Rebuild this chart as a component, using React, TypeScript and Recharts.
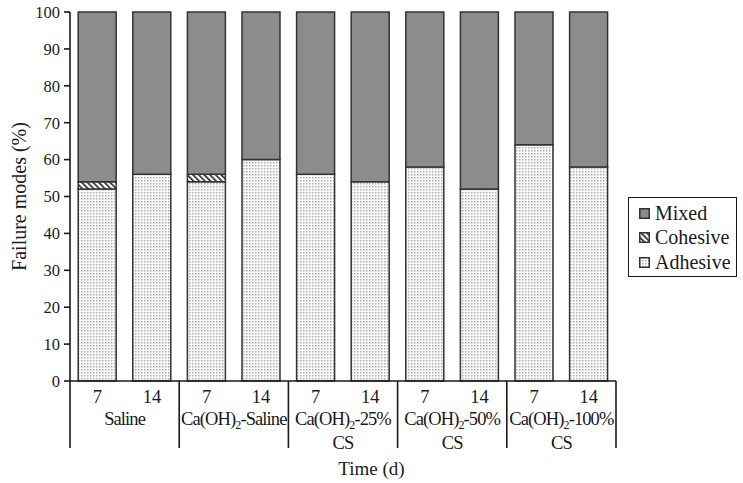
import { BarChart, Bar, XAxis, YAxis } from 'recharts';

// ─── Data ────────────────────────────────────────────────────────────────────

const days = ['7', '14', '7', '14', '7', '14', '7', '14', '7', '14'];
const groups = [
  ['Saline'],
  ['Ca(OH)2-Saline'],
  ['Ca(OH)2-25%', 'CS'],
  ['Ca(OH)2-50%', 'CS'],
  ['Ca(OH)2-100%', 'CS'],
];
const adhesive = [52, 56, 54, 60, 56, 54, 58, 52, 64, 58];
const cohesive = [2, 0, 2, 0, 0, 0, 0, 0, 0, 0];
const mixed = [46, 44, 44, 40, 44, 46, 42, 48, 36, 42];
const yTicks = [0, 10, 20, 30, 40, 50, 60, 70, 80, 90, 100];

const data = days.map((d, i) => ({
  day: d,
  adhesive: adhesive[i],
  cohesive: cohesive[i],
  mixed: mixed[i],
}));

// ─── Layout ──────────────────────────────────────────────────────────────────

const W = 743;
const H = 483;
const LEFT = 70;
const RIGHT = 127;
const TOP = 12;
const X_AXIS_H = 102;
const BAND = (W - LEFT - RIGHT) / days.length;

const FONT = '"Liberation Serif", "Times New Roman", serif';
const INK = '#1a1a1a';
const EDGE = '#333';
const MIXED = '#8c8c8c';

// Ca(OH)2 with a subscript 2
function Chem({ text }: { text: string }) {
  const i = text.indexOf('(OH)2');
  if (i < 0) return <>{text}</>;
  return (
    <>
      <tspan>{text.slice(0, i + 4)}</tspan>
      <tspan dy={4} fontSize={12}>2</tspan>
      <tspan dy={-4}>{text.slice(i + 5)}</tspan>
    </>
  );
}

function DayTick(props: any) {
  const { x, y, payload } = props;
  const idx = payload.index;
  const g = Math.floor(idx / 2);
  const first = idx % 2 === 0;
  const last = idx === days.length - 1;
  return (
    <g fontFamily={FONT} fontSize={18.5} fill={INK}>
      <text x={x} y={y + 22} textAnchor="middle">
        {payload.value}
      </text>
      {first && (
        <>
          <line x1={x - BAND / 2} x2={x - BAND / 2} y1={y} y2={y + 67} stroke={INK} strokeWidth={1.6} />
          {groups[g].map((ln, k) => (
            <text key={k} x={x + BAND / 2} y={y + 44 + k * 24} textAnchor="middle" letterSpacing={-0.9}>
              <Chem text={ln} />
            </text>
          ))}
        </>
      )}
      {last && <line x1={x + BAND / 2} x2={x + BAND / 2} y1={y} y2={y + 67} stroke={INK} strokeWidth={1.6} />}
    </g>
  );
}

function YLabel(props: any) {
  const { viewBox } = props;
  const cx = 19;
  const cy = viewBox.y + viewBox.height / 2;
  return (
    <text x={cx} y={cy} transform={`rotate(-90 ${cx} ${cy})`} textAnchor="middle" dominantBaseline="central" fontFamily={FONT} fontSize={20} fill={INK}>
      Failure modes (%)
    </text>
  );
}

function XLabel() {
  return (
    <text x={W / 2} y={475} textAnchor="middle" fontFamily={FONT} fontSize={19} fill={INK}>
      Time (d)
    </text>
  );
}

const legendItems = [
  { label: 'Mixed', fill: MIXED },
  { label: 'Cohesive', fill: 'url(#hatch)' },
  { label: 'Adhesive', fill: 'url(#dots)' },
];

function LegendBox() {
  return (
    <div
      style={{
        position: 'absolute',
        left: 628,
        top: 197,
        width: 109,
        height: 80,
        boxSizing: 'border-box',
        border: `1.6px solid ${INK}`,
        padding: '3px 0 0 10px',
        fontFamily: FONT,
        fontSize: 20,
        color: INK,
        background: '#fff',
      }}
    >
      {legendItems.map((it) => (
        <div key={it.label} style={{ display: 'flex', alignItems: 'center', height: 24.5, whiteSpace: 'nowrap' }}>
          <svg width={11} height={11} style={{ marginRight: 5 }}>
            <rect x={0.75} y={0.75} width={9.5} height={9.5} fill={it.fill} stroke={EDGE} strokeWidth={1.5} />
          </svg>
          <span>{it.label}</span>
        </div>
      ))}
    </div>
  );
}

export default function App() {
  return (
    <div style={{ position: 'absolute', left: 0, top: 0, width: W, height: H, background: '#fff' }}>
      <svg width={0} height={0} style={{ position: 'absolute' }}>
        <defs>
          <pattern id="dots" patternUnits="userSpaceOnUse" width={3} height={3}>
            <rect width={3} height={3} fill="#fafafa" />
            <rect width={1.5} height={1.5} fill="#b0b0b0" />
          </pattern>
          <pattern id="hatch" patternUnits="userSpaceOnUse" width={4} height={4} patternTransform="rotate(-45)">
            <rect width={4} height={4} fill="#fff" />
            <rect width={1.6} height={4} fill="#222" />
          </pattern>
        </defs>
      </svg>
      <BarChart
        width={W}
        height={H}
        data={data}
        margin={{ top: TOP, right: RIGHT, bottom: 0, left: 0 }}
        barCategoryGap="15%"
      >
        <XAxis
          dataKey="day"
          height={X_AXIS_H}
          tickLine={false}
          tickSize={0}
          tickMargin={0}
          interval={0}
          axisLine={{ stroke: INK, strokeWidth: 1.6 }}
          tick={<DayTick />}
        />
        <YAxis
          width={LEFT}
          domain={[0, 100]}
          ticks={yTicks}
          interval={0}
          tickSize={6}
          tickMargin={4}
          axisLine={{ stroke: INK, strokeWidth: 1.6 }}
          tickLine={{ stroke: INK, strokeWidth: 1.6 }}
          tick={{ fontFamily: FONT, fontSize: 16.5, fill: INK }}
          label={<YLabel />}
        />
        <Bar dataKey="adhesive" stackId="a" fill="url(#dots)" stroke={EDGE} strokeWidth={1.5} isAnimationActive={false} />
        <Bar dataKey="cohesive" stackId="a" fill="url(#hatch)" stroke={EDGE} strokeWidth={1.5} isAnimationActive={false} />
        <Bar dataKey="mixed" stackId="a" fill={MIXED} stroke={EDGE} strokeWidth={1.5} isAnimationActive={false} />
      </BarChart>
      <svg width={W} height={H} style={{ position: 'absolute', left: 0, top: 0, pointerEvents: 'none' }}>
        <XLabel />
      </svg>
      <LegendBox />
    </div>
  );
}
